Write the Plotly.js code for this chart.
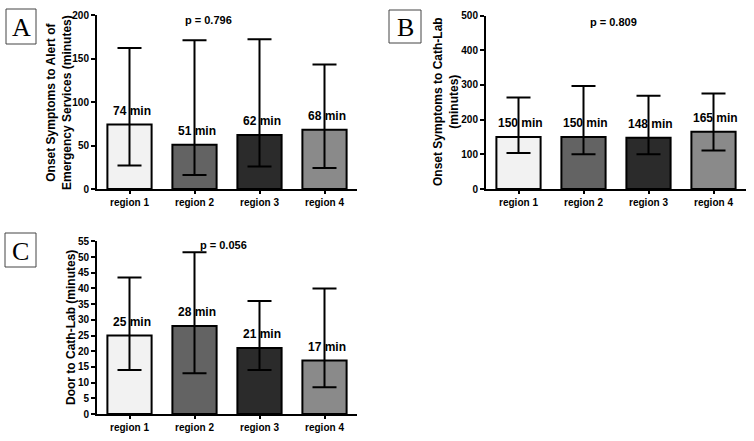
<!DOCTYPE html>
<html>
<head>
<meta charset="utf-8">
<script src="https://cdn.plot.ly/plotly-3.0.1.min.js"></script>
<style>html,body{margin:0;padding:0;background:#fff;}#chart{width:754px;height:441px;}</style>
</head>
<body>
<div id="chart"></div>
<script>
// ---- data ----
const regions = ["region 1", "region 2", "region 3", "region 4"];
const barColors = ["#f2f2f2", "#636363", "#2b2b2b", "#8a8a8a"];

// Panel A: Onset symptoms to alert of emergency services (minutes)
const meanA = [74, 51, 62, 68];
const upperA = [162, 171, 172, 143];
const lowerA = [27, 16, 26, 24];
const pA = "p = 0.796";
const titleA = "Onset Symptoms to Alert of<br>Emergency Services (minutes)";

// Panel B: Onset symptoms to cath-lab (minutes)
const meanB = [150, 150, 148, 165];
const upperB = [264, 297, 269, 275];
const lowerB = [104, 100, 100, 111];
const pB = "p = 0.809";
const titleB = "Onset Symptoms to Cath-Lab<br>(minutes)";

// Panel C: Door to cath-lab (minutes)
const meanC = [25, 28, 21, 17];
const upperC = [43.5, 51.5, 36, 40];
const lowerC = [14, 13, 14, 8.5];
const pC = "p = 0.056";
const titleC = "Door to Cath-Lab (minutes)";

const panelLetters = ["A", "B", "C"];

// ---- helpers ----
const W = 754, H = 441;
const px = x => x / W;
const py = y => 1 - y / H;
const FONT = "Arial, 'Liberation Sans', sans-serif";
const SERIF = "'Times New Roman', 'Liberation Serif', serif";

function barTrace(mean, upper, lower, xa, ya) {
  return {
    type: "bar",
    x: regions,
    y: mean,
    xaxis: xa, yaxis: ya,
    width: 0.68,
    marker: {color: barColors, line: {color: "#000", width: 2}},
    error_y: {
      type: "data", symmetric: false,
      array: upper.map((u, i) => u - mean[i]),
      arrayminus: lower.map((l, i) => mean[i] - l),
      color: "#000", thickness: 2, width: 12
    },
    hoverinfo: "x+y",
    showlegend: false
  };
}

const data = [
  barTrace(meanA, upperA, lowerA, "x", "y"),
  barTrace(meanB, upperB, lowerB, "x2", "y2"),
  barTrace(meanC, upperC, lowerC, "x3", "y3")
];

const tickFont = {family: FONT, size: 10, color: "#000", weight: "bold"};
const titleFont = {family: FONT, size: 12, color: "#000", weight: "bold"};

function xAxis(domain, anchor) {
  return {
    domain: domain, anchor: anchor,
    type: "category", range: [-0.5, 3.5],
    showline: true, linecolor: "#000", linewidth: 2,
    ticks: "outside", ticklen: 3, tickwidth: 2, tickcolor: "#000",
    showgrid: false, zeroline: false,
    tickfont: tickFont, fixedrange: true
  };
}
function yAxis(domain, anchor, range, dtick) {
  return {
    domain: domain, anchor: anchor,
    range: range, dtick: dtick, tick0: 0,
    showline: true, linecolor: "#000", linewidth: 2,
    ticks: "outside", ticklen: 4, tickwidth: 2, tickcolor: "#000",
    showgrid: false, zeroline: false,
    tickfont: tickFont, fixedrange: true
  };
}

const annotations = [];
function valueLabels(mean, xa, ya) {
  mean.forEach((m, i) => {
    annotations.push({
      x: regions[i], y: m, xref: xa, yref: ya,
      text: m + " min", showarrow: false,
      yanchor: "bottom", yshift: 5, xshift: 2,
      font: {family: FONT, size: 12, color: "#000", weight: "bold"}
    });
  });
}
valueLabels(meanA, "x", "y");
valueLabels(meanB, "x2", "y2");
valueLabels(meanC, "x3", "y3");

function pLabel(text, cx, cy) {
  annotations.push({
    x: px(cx), y: py(cy), xref: "paper", yref: "paper",
    text: text, showarrow: false, xanchor: "center", yanchor: "middle",
    font: {family: FONT, size: 11, color: "#000", weight: "bold"}
  });
}
pLabel(pA, 208, 20);
pLabel(pB, 613, 22);
pLabel(pC, 223, 245);

function axisTitle(text, cx, cy) {
  annotations.push({
    x: px(cx), y: py(cy), xref: "paper", yref: "paper",
    text: text, showarrow: false, textangle: -90,
    xanchor: "center", yanchor: "middle",
    font: titleFont
  });
}
axisTitle(titleA, 59, 103);
axisTitle(titleB, 446, 102);
axisTitle(titleC, 71, 328);

const boxes = [[6, 9, 36, 44], [389, 10, 421, 43], [5, 233, 36, 267]];
const shapes = [];
boxes.forEach((b, i) => {
  shapes.push({
    type: "rect", xref: "paper", yref: "paper",
    x0: px(b[0]), x1: px(b[2]), y0: py(b[3]), y1: py(b[1]),
    line: {color: "#444", width: 1}, fillcolor: "rgba(0,0,0,0)"
  });
  annotations.push({
    x: px((b[0] + b[2]) / 2), y: py((b[1] + b[3]) / 2 + 1),
    xref: "paper", yref: "paper", text: panelLetters[i], showarrow: false,
    xanchor: "center", yanchor: "middle",
    font: {family: SERIF, size: 26, color: "#000"}
  });
});

const layout = {
  width: W, height: H,
  margin: {l: 0, r: 0, t: 0, b: 0},
  paper_bgcolor: "#fff", plot_bgcolor: "#fff",
  showlegend: false,
  xaxis: xAxis([px(97), px(357)], "y"),
  yaxis: yAxis([py(189), py(15)], "x", [0, 200], 50),
  xaxis2: xAxis([px(486), px(746)], "y2"),
  yaxis2: yAxis([py(189), py(15.5)], "x2", [0, 500], 100),
  xaxis3: xAxis([px(97), px(357)], "y3"),
  yaxis3: yAxis([py(414), py(241.3)], "x3", [0, 55], 5),
  annotations: annotations,
  shapes: shapes
};

Plotly.newPlot("chart", data, layout, {displayModeBar: false});
</script>
</body>
</html>
